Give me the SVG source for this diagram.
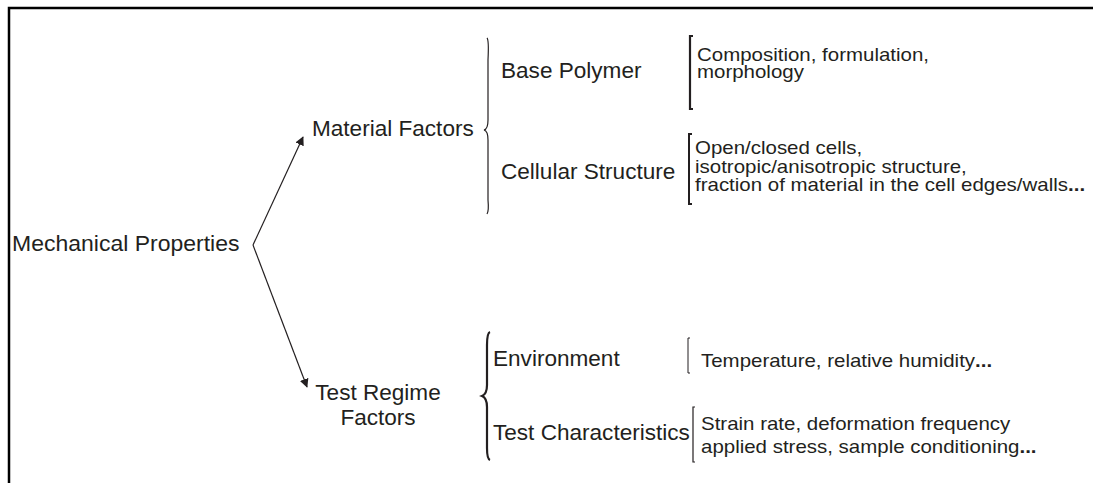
<svg xmlns="http://www.w3.org/2000/svg" width="1093" height="483" viewBox="0 0 1093 483">
<defs>
<marker id="ah" viewBox="0 0 10 10" refX="9" refY="5" markerWidth="9" markerHeight="9" markerUnits="userSpaceOnUse" orient="auto">
<path d="M0,0 L10,5 L0,10 z" fill="#231f20"/>
</marker>
<style>
.t{font-family:"Liberation Sans",Arial,sans-serif;fill:#231f20;}
.l{font-size:21.5px;}
.s{font-size:17.5px;}
.br{fill:none;stroke:#231f20;}
.conn{fill:none;stroke:#231f20;stroke-width:1.2;}
</style>
</defs>
<rect width="1093" height="483" fill="#fff"/>
<path d="M9,483 L9,8 L1093,8" fill="none" stroke="#000" stroke-width="2.5"/>

<g id="connectors">
<path class="conn" d="M253,245 L303,137" marker-end="url(#ah)"/>
<path class="conn" d="M253,245 L307,387" marker-end="url(#ah)"/>
</g>

<g id="mechanical">
<text class="t l" transform="translate(12,251) scale(1.07,1)">Mechanical Properties</text>
</g>
<g id="material">
<text class="t l" transform="translate(312,136) scale(1.05,1)">Material Factors</text>
<path class="br" stroke-width="1.2" d="M487,38 Q489,40 488,60 L488,120 Q488,129 484,130 Q488,131 488,140 L488,200 Q489,211 487,214"/>
</g>
<g id="base-polymer">
<text class="t l" transform="translate(501,78) scale(1.05,1)">Base Polymer</text>
<path class="br" stroke-width="2.2" d="M693,36 L690,36 L690,109 L693,109"/>
<text class="t s" transform="translate(697,60.5) scale(1.17,1)">Composition, formulation,</text>
<text class="t s" transform="translate(697,78) scale(1.17,1)">morphology</text>
</g>
<g id="cellular">
<text class="t l" transform="translate(501,179) scale(1.05,1)">Cellular Structure</text>
<path class="br" stroke-width="2" d="M692,134 L689,134 L689,204 L692,204"/>
<text class="t s" transform="translate(695,154) scale(1.17,1)">Open/closed cells,</text>
<text class="t s" transform="translate(695,172.5) scale(1.17,1)">isotropic/anisotropic structure,</text>
<text class="t s" transform="translate(695,191) scale(1.17,1)">fraction of material in the cell edges/walls<tspan font-weight="bold">...</tspan></text>
</g>
<g id="test-regime">
<text class="t l" text-anchor="middle" transform="translate(378,400) scale(1.05,1)">Test Regime</text>
<text class="t l" text-anchor="middle" transform="translate(378,425) scale(1.05,1)">Factors</text>
<path class="br" stroke-width="2.2" d="M490,332 Q487,333 487,345 L487,385 Q487,394 482,396 Q487,398 487,407 L487,448 Q487,459 490,460"/>
</g>
<g id="environment">
<text class="t l" transform="translate(493,366) scale(1.05,1)">Environment</text>
<path class="br" stroke-width="1" d="M690,338 L688,338 L688,373 L690,373"/>
<text class="t s" transform="translate(701,366.5) scale(1.17,1)">Temperature, relative humidity<tspan font-weight="bold">...</tspan></text>
</g>
<g id="test-char">
<text class="t l" transform="translate(493,440) scale(1.05,1)">Test Characteristics</text>
<path class="br" stroke-width="1.2" d="M695,407 L693,407 L693,462 L695,462"/>
<text class="t s" transform="translate(701,430) scale(1.17,1)">Strain rate, deformation frequency</text>
<text class="t s" transform="translate(701,453) scale(1.17,1)">applied stress, sample conditioning<tspan font-weight="bold">...</tspan></text>
</g>
</svg>
